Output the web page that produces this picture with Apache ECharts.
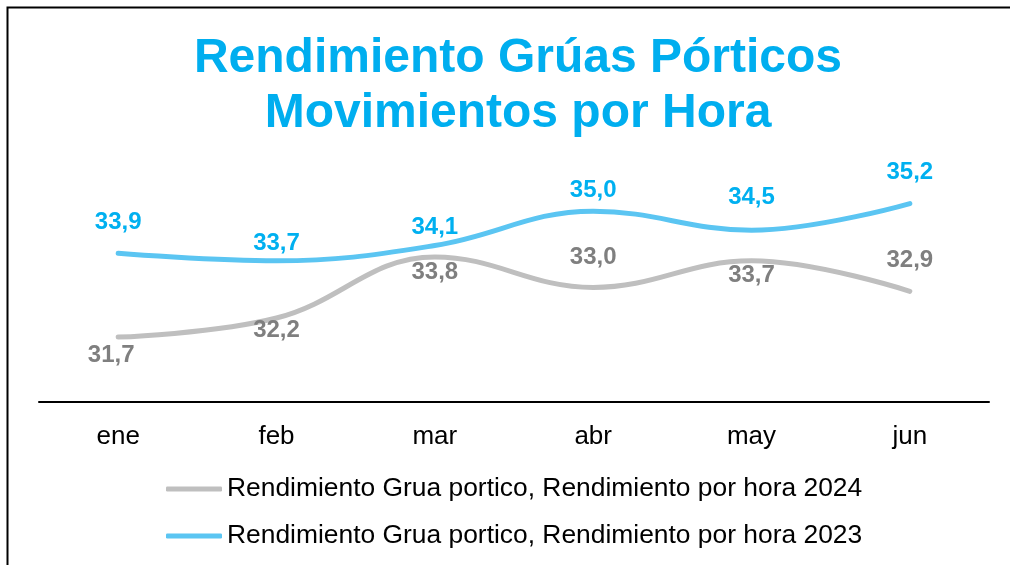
<!DOCTYPE html>
<html>
<head>
<meta charset="utf-8">
<script src="https://cdn.jsdelivr.net/npm/echarts@6/dist/echarts.min.js"></script>
<style>
  html, body { margin: 0; padding: 0; background: #fff; }
  #chart { width: 1010px; height: 565px; }
</style>
</head>
<body>
<div id="chart"></div>
<script>
const meses = ['ene', 'feb', 'mar', 'abr', 'may', 'jun']
const serie2024 = [31.7, 32.2, 33.8, 33.0, 33.7, 32.9]
const serie2023 = [33.9, 33.7, 34.1, 35.0, 34.5, 35.2]
const nombre2024 = 'Rendimiento Grua portico, Rendimiento por hora 2024'
const nombre2023 = 'Rendimiento Grua portico, Rendimiento por hora 2023'

// desplazamiento de cada etiqueta (como estaban colocadas a mano)
const offs2024 = [[-7, 18], [0, 12], [0, 15], [0, -30], [0, 15], [0, -31]]
const offs2023 = [[0, -31], [0, -17], [0, -18], [0, -21], [0, -33], [0, -31]]

const fuente = 'Liberation Sans, Arial, sans-serif'

function conEtiquetas (valores, offs) {
  return valores.map((v, i) => ({
    value: v,
    label: { offset: offs[i] }
  }))
}

const chart = echarts.init(document.getElementById('chart'))
const options = {
  animation: false,
  title: {
    text: 'Rendimiento Grúas Pórticos\nMovimientos por Hora',
    left: 513,
    textAlign: 'center',
    top: 26,
    textStyle: {
      color: '#00AEEF',
      fontFamily: fuente,
      fontWeight: 'bold',
      fontSize: 48,
      lineHeight: 55
    }
  },
  graphic: [{
    type: 'rect',
    shape: { x: 7.5, y: 7.5, width: 1200, height: 800 },
    style: { fill: 'none', stroke: '#000', lineWidth: 2 },
    silent: true
  }],
  legend: {
    orient: 'vertical',
    left: 166,
    top: 476,
    padding: 0,
    icon: 'roundRect',
    itemWidth: 56,
    itemHeight: 5,
    itemGap: 21,
    textStyle: { color: '#000', fontFamily: fuente, fontSize: 26.4 },
    data: [nombre2024, nombre2023]
  },
  grid: { left: 39, right: 21, top: 173, bottom: 163 },
  xAxis: {
    type: 'category',
    data: meses,
    boundaryGap: true,
    axisLine: { lineStyle: { color: '#000', width: 2 } },
    axisTick: { show: false },
    axisLabel: { color: '#000', fontFamily: fuente, fontSize: 26, margin: 22 }
  },
  yAxis: {
    type: 'value',
    min: 30,
    max: 36,
    show: false,
    splitLine: { show: false }
  },
  series: [
    {
      name: nombre2024,
      type: 'line',
      smooth: 0.4,
      symbol: 'circle',
      symbolSize: 0,
      data: conEtiquetas(serie2024, offs2024),
      lineStyle: { color: '#BFBFBF', width: 5, cap: 'round' },
      itemStyle: { color: '#BFBFBF' },
      label: {
        show: true,
        position: 'inside',
        color: '#7F7F7F',
        fontFamily: fuente,
        fontWeight: 'bold',
        fontSize: 24,
        formatter: p => p.value.toFixed(1).replace('.', ',')
      }
    },
    {
      name: nombre2023,
      type: 'line',
      smooth: 0.4,
      symbol: 'circle',
      symbolSize: 0,
      data: conEtiquetas(serie2023, offs2023),
      lineStyle: { color: '#5BC5F2', width: 5, cap: 'round' },
      itemStyle: { color: '#5BC5F2' },
      label: {
        show: true,
        position: 'inside',
        color: '#00B0F0',
        fontFamily: fuente,
        fontWeight: 'bold',
        fontSize: 24,
        formatter: p => p.value.toFixed(1).replace('.', ',')
      }
    }
  ]
}
chart.setOption(options)
</script>
</body>
</html>
